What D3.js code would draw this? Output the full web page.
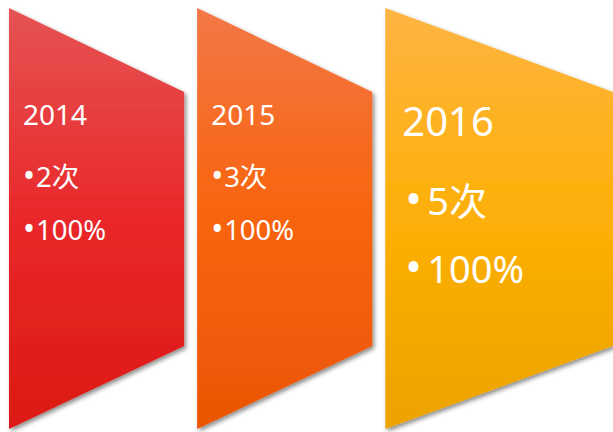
<!DOCTYPE html>
<html>
<head>
<meta charset="utf-8">
<script src="https://cdn.jsdelivr.net/npm/d3@7"></script>
<style>
  html, body { margin: 0; padding: 0; background: #fff; }
  svg { display: block; }
  text { font-family: "Noto Sans", "Noto Sans CJK SC", sans-serif; fill: #fff; }
</style>
</head>
<body>
<div id="chart"></div>
<script>
// data
const years = ['2014', '2015', '2016'];
const counts = ['2次', '3次', '5次'];
const rates = ['100%', '100%', '100%'];
const highlight = '2016';

const topColors = ['#e55353', '#f37747', '#feb443'];
const midColors = ['#e9282a', '#f8640c', '#fdb007'];
const bottomColors = ['#dc1914', '#ea5505', '#eca200'];

function drawFunnel() {
  const width = 613, height = 432;
  const top = 8, bottom = 429;         // left edge
  const innerTop = 92, innerBottom = 346; // right edge
  const gap = 13, left = 9;
  const bigScale = 1.3;

  const svg = d3.select('#chart').append('svg')
    .attr('width', width)
    .attr('height', height);

  const defs = svg.append('defs');

  defs.append('filter')
    .attr('id', 'shadow')
    .attr('x', '-10%').attr('y', '-10%')
    .attr('width', '130%').attr('height', '130%')
    .append('feDropShadow')
    .attr('dx', 2).attr('dy', 2.5)
    .attr('stdDeviation', 2)
    .attr('flood-color', '#000')
    .attr('flood-opacity', 0.45);

  years.forEach((y, i) => {
    const g = defs.append('linearGradient')
      .attr('id', 'grad' + i)
      .attr('x1', 0).attr('y1', 0).attr('x2', 0).attr('y2', 1);
    g.append('stop').attr('offset', '0%').attr('stop-color', topColors[i]);
    g.append('stop').attr('offset', '50%').attr('stop-color', midColors[i]);
    g.append('stop').attr('offset', '100%').attr('stop-color', bottomColors[i]);
  });

  // widths: highlighted year is drawn larger
  const weights = years.map(y => y === highlight ? bigScale : 1);
  const unit = (width - left - gap * (years.length - 1)) / d3.sum(weights);
  const x0 = [];
  let cx = left;
  weights.forEach(w => { x0.push(cx); cx += w * unit + gap; });

  const items = years.map((y, i) => ({
    year: y, count: counts[i], rate: rates[i],
    x: x0[i], w: weights[i] * unit, big: y === highlight, i
  }));

  const shape = svg.selectAll('g.item')
    .data(items)
    .join('g')
    .attr('class', 'item');

  shape.append('path')
    .attr('d', d => {
      const p = d3.path();
      p.moveTo(d.x, top);
      p.lineTo(d.x + d.w, innerTop);
      p.lineTo(d.x + d.w, innerBottom);
      p.lineTo(d.x, bottom);
      p.closePath();
      return p.toString();
    })
    .attr('fill', d => `url(#grad${d.i})`)
    .attr('filter', 'url(#shadow)');

  // labels
  shape.append('text')
    .attr('x', d => d.x + (d.big ? 17 : 14))
    .attr('y', d => d.big ? 136 : 124.5)
    .attr('font-size', d => d.big ? 40 : 28)
    .text(d => d.year);

  const lines = [
    { key: 'count', y: 187, yBig: 215 },
    { key: 'rate', y: 239.5, yBig: 283 }
  ];

  lines.forEach(l => {
    const t = shape.append('text')
      .attr('y', d => d.big ? l.yBig : l.y)
      .attr('font-size', d => d.big ? 38 : 27.5);
    t.append('tspan')
      .attr('x', d => d.x + (d.big ? 20 : 14))
      .attr('font-size', d => d.big ? 44 : 32)
      .text('•');
    t.append('tspan')
      .attr('x', d => d.x + (d.big ? 42 : 27))
      .text(d => d[l.key]);
  });
}

drawFunnel();
</script>
</body>
</html>
